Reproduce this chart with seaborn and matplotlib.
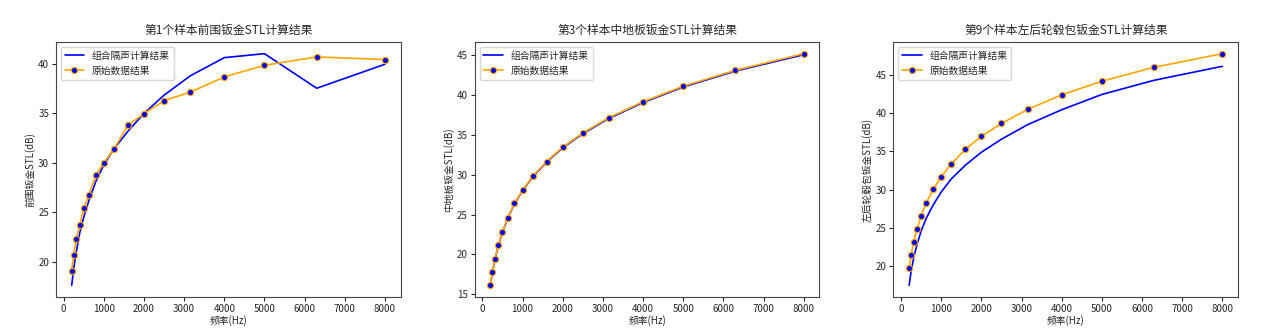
import matplotlib
matplotlib.use("Agg")
import matplotlib.pyplot as plt
import seaborn as sns
import pandas as pd

freq = [200, 250, 315, 400, 500, 630, 800, 1000, 1250, 1600, 2000, 2500, 3150, 4000, 5000, 6300, 8000]

calc_1 = [17.6, 19.3, 21.0, 22.9, 24.5, 26.2, 28.1, 29.8, 31.4, 33.2, 35.0, 36.85, 38.8, 40.65, 41.05, 37.55, 39.98]
orig_1 = [19.1, 20.67, 22.34, 23.71, 25.38, 26.79, 28.73, 30.0, 31.37, 33.81, 34.98, 36.3, 37.15, 38.7, 39.87, 40.72, 40.45]

calc_3 = [16.12, 17.7, 19.4, 21.12, 22.78, 24.53, 26.37, 27.98, 29.72, 31.6, 33.38, 35.16, 37.07, 39.07, 41.02, 43.02, 45.08]
orig_3 = [16.17, 17.75, 19.46, 21.17, 22.83, 24.58, 26.42, 28.04, 29.79, 31.67, 33.46, 35.25, 37.17, 39.17, 41.12, 43.12, 45.21]

calc_9 = [17.5, 19.3, 21.1, 22.9, 24.6, 26.3, 28.0, 29.7, 31.4, 33.2, 34.9, 36.6, 38.5, 40.45, 42.45, 44.3, 46.13]
orig_9 = [19.74, 21.43, 23.17, 24.86, 26.6, 28.29, 30.03, 31.72, 33.37, 35.28, 36.97, 38.66, 40.49, 42.4, 44.18, 46.0, 47.78]

titles = ["第1个样本前围钣金STL计算结果", "第3个样本中地板钣金STL计算结果", "第9个样本左后轮毂包钣金STL计算结果"]
ylabels = ["前围钣金STL(dB)", "中地板钣金STL(dB)", "左后轮毂包钣金STL(dB)"]
xlabel = "频率(Hz)"
legend_calc = "组合隔声计算结果"
legend_orig = "原始数据结果"

sns.set_style("ticks")
plt.rcParams['font.family'] = ['Noto Sans CJK SC', 'DejaVu Sans']
plt.rcParams['axes.unicode_minus'] = False

fig, axes = plt.subplots(1, 3, figsize=(12.82, 3.34), dpi=100)
fig.subplots_adjust(left=0.0437, right=0.9657, top=0.874, bottom=0.111, wspace=0.215)

series = [(calc_1, orig_1), (calc_3, orig_3), (calc_9, orig_9)]
for ax, (calc, orig), title, ylab in zip(axes, series, titles, ylabels):
    df = pd.DataFrame({"freq": freq, "calc": calc, "orig": orig})
    sns.lineplot(data=df, x="freq", y="calc", ax=ax, color="blue", linewidth=1.2,
                 label=legend_calc)
    sns.lineplot(data=df, x="freq", y="orig", ax=ax, color="orange", linewidth=1.2,
                 marker="o", markersize=4.5, markerfacecolor="blue",
                 markeredgecolor="orange", markeredgewidth=0.8, label=legend_orig)
    ax.set_title(title, fontsize=8.5)
    ax.set_xlabel(xlabel, fontsize=7, labelpad=1)
    ax.set_ylabel(ylab, fontsize=7, labelpad=2)
    ax.tick_params(labelsize=7, length=3, pad=2)
    ax.set_xticks([0, 1000, 2000, 3000, 4000, 5000, 6000, 7000, 8000])
    ax.legend(loc="upper left", fontsize=7, frameon=True, handlelength=2)
    for s in ax.spines.values():
        s.set_color("#444444")

fig.savefig("out.png", dpi=100)
